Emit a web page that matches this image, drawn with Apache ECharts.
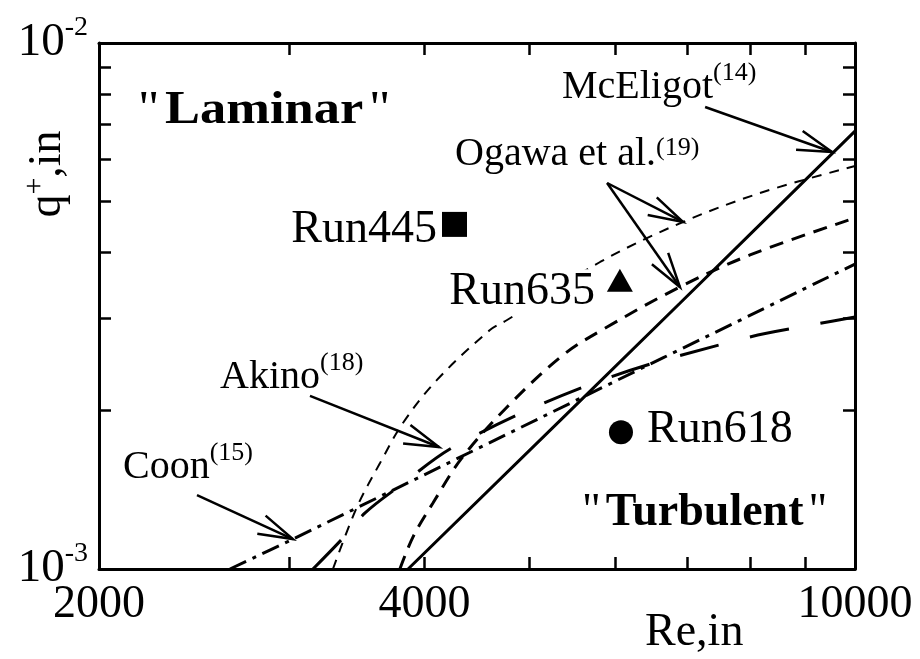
<!DOCTYPE html>
<html>
<head>
<meta charset="utf-8">
<script src="https://cdn.jsdelivr.net/npm/echarts@6/dist/echarts.min.js"></script>
<style>
  html, body { margin: 0; padding: 0; background: #fff; }
  #chart { width: 920px; height: 659px; }
</style>
</head>
<body>
<div id="chart"></div>
<script>
// Axis tick values (log scales)
const reTicks = [3000, 4000, 5000, 6000, 7000, 8000, 9000];
const reLabels = [2000, 4000, 10000];
const qTicks = [0.002, 0.003, 0.004, 0.005, 0.006, 0.007, 0.008, 0.009];
const qLabels = [0.001, 0.01];

// Laminarization criteria, pairs of [Re_in, q+_in]
const mcEligot = [[3862, 1.0e-3], [6888, 3.20e-3], [10000, 6.80e-3]];
const ogawaUpper = [[3291, 1.0e-3], [3464, 1.312e-3], [3638, 1.59e-3], [3820, 1.895e-3], [4107, 2.288e-3],
  [4597, 2.847e-3], [4768, 2.974e-3], [5812, 3.834e-3], [6934, 4.568e-3], [8224, 5.208e-3], [10000, 5.836e-3]];
const ogawaLower = [[3795, 1.0e-3], [3902, 1.15e-3], [4072, 1.335e-3], [4331, 1.626e-3], [4768, 2.032e-3],
  [5370, 2.55e-3], [5899, 2.884e-3], [6888, 3.437e-3], [7998, 3.954e-3], [10000, 4.649e-3]];
const akino = [[3154, 1.0e-3], [3362, 1.145e-3], [3524, 1.278e-3], [3772, 1.426e-3], [4286, 1.721e-3],
  [5774, 2.268e-3], [7862, 2.737e-3], [9222, 2.923e-3], [10000, 3.014e-3]];
const coon = [[2643, 1.0e-3], [3022, 1.14e-3], [5115, 1.937e-3], [10000, 3.80e-3]];

// Experimental runs
const run445 = [[4263, 4.52e-3]];
const run635 = [[6062, 3.54e-3]];
const run618 = [[6076, 1.82e-3]];

// Pointer arrows: [tail Re, tail q+, tip Re, tip q+]
const arrows = [
  [7268, 7.555e-3, 9522, 6.206e-3],
  [5899, 5.418e-3, 6934, 4.568e-3],
  [5899, 5.418e-3, 6888, 3.437e-3],
  [3134, 2.133e-3, 4124, 1.706e-3],
  [2464, 1.382e-3, 3022, 1.14e-3]
];

const SERIF = '"Liberation Serif", "Times New Roman", serif';
const BLACK = '#000';

function frameAxis(extra) {
  return Object.assign({
    type: 'log',
    logBase: 10,
    axisLine: { show: true, onZero: false, lineStyle: { color: BLACK, width: 3 } },
    splitLine: { show: false },
    minorTick: { show: false }
  }, extra);
}

function ticks(values) {
  return { show: true, inside: true, length: 12, customValues: values, lineStyle: { color: BLACK, width: 2.5 } };
}

function curve(name, data, lineType, width) {
  return {
    name: name,
    type: 'line',
    data: data,
    symbol: 'none',
    smooth: 0.35,
    clip: true,
    lineStyle: { color: BLACK, width: width, type: lineType, cap: 'butt' },
    z: 3
  };
}

function runPoint(name, data, symbol, size, pos, dist, offset, bg) {
  return {
    name: name,
    type: 'scatter',
    data: data,
    symbol: symbol,
    symbolSize: size,
    itemStyle: { color: BLACK, opacity: 1 },
    label: {
      show: true, position: pos, distance: dist, offset: offset,
      formatter: name, fontFamily: SERIF, fontSize: 46, color: BLACK,
      backgroundColor: bg || 'transparent', padding: bg ? [0, 2, 0, 2] : 0
    },
    z: 5
  };
}

// Annotation text with a superscript reference number
function refText(main, ref, x, y, lh) {
  return {
    type: 'text', x: x, y: y, z: 10,
    style: {
      text: '{m|' + main + '}{s|' + ref + '}',
      align: 'left', verticalAlign: 'top',
      rich: {
        m: { fontFamily: SERIF, fontSize: 40, lineHeight: lh, fill: BLACK, color: BLACK },
        s: { fontFamily: SERIF, fontSize: 26, lineHeight: 26, verticalAlign: 'top', fill: BLACK, color: BLACK }
      }
    }
  };
}

// Bold region name in plain straight quotes
function regionText(word, x, y, sx) {
  return {
    type: 'text', x: x, y: y, z: 10, scaleX: sx,
    style: {
      text: '{q|"}{b|' + word + '}{r|"}',
      align: 'left', verticalAlign: 'top',
      rich: {
        q: { fontFamily: SERIF, fontSize: 46, lineHeight: 46, padding: [0, 5, 0, 0], fill: BLACK, color: BLACK },
        b: { fontFamily: SERIF, fontSize: 46, fontWeight: 'bold', lineHeight: 46, fill: BLACK, color: BLACK },
        r: { fontFamily: SERIF, fontSize: 46, lineHeight: 46, padding: [0, 0, 0, 5], fill: BLACK, color: BLACK }
      }
    }
  };
}

const chart = echarts.init(document.getElementById('chart'), null, { renderer: 'canvas' });

chart.setOption({
  animation: false,
  backgroundColor: '#fff',
  grid: { left: 99, right: 65, top: 43, bottom: 90, outerBoundsMode: 'none', containLabel: false },
  xAxis: [
    frameAxis({
      position: 'bottom', min: 2000, max: 10000,
      axisTick: ticks(reTicks),
      axisLabel: {
        show: true, customValues: reLabels, margin: 13,
        fontFamily: SERIF, fontSize: 46, color: BLACK,
        formatter: v => String(Math.round(v))
      }
    }),
    frameAxis({
      position: 'top', min: 2000, max: 10000,
      axisTick: ticks(reTicks),
      axisLabel: { show: false }
    })
  ],
  yAxis: [
    frameAxis({
      position: 'left', min: 0.001, max: 0.01,
      axisTick: ticks(qTicks),
      axisLabel: {
        show: true, customValues: qLabels, margin: 11,
        formatter: v => '{m|10}{e|' + Math.round(Math.log10(v)) + '}',
        rich: {
          m: { fontFamily: SERIF, fontSize: 47, lineHeight: 58, color: BLACK },
          e: { fontFamily: SERIF, fontSize: 28, lineHeight: 28, verticalAlign: 'top', color: BLACK }
        }
      }
    }),
    frameAxis({
      position: 'right', min: 0.001, max: 0.01,
      axisTick: ticks(qTicks),
      axisLabel: { show: false }
    })
  ],
  series: [
    curve('McEligot', mcEligot, 'solid', 3),
    curve('Ogawa (a)', ogawaUpper, [10, 8], 2),
    curve('Ogawa (b)', ogawaLower, [14, 9], 3),
    curve('Akino', akino, [40, 32], 3),
    curve('Coon', coon, [18, 7, 4, 7], 3),
    runPoint('Run445', run445, 'rect', 25, 'left', 5, [0, 6]),
    runPoint('Run635', run635, 'triangle', [26, 23], 'left', 10, [0, 12], '#fff'),
    runPoint('Run618', run618, 'circle', 24, 'right', 14, [0, -2]),
    {
      name: 'pointers',
      type: 'custom',
      data: arrows,
      clip: false,
      z: 6,
      encode: { x: [0, 2], y: [1, 3] },
      renderItem: function (params, api) {
        const a = api.coord([api.value(0), api.value(1)]);
        const b = api.coord([api.value(2), api.value(3)]);
        const ang = Math.atan2(a[1] - b[1], a[0] - b[0]);
        const len = 36, spread = 0.28;
        const p1 = [b[0] + len * Math.cos(ang + spread), b[1] + len * Math.sin(ang + spread)];
        const p2 = [b[0] + len * Math.cos(ang - spread), b[1] + len * Math.sin(ang - spread)];
        return {
          type: 'group',
          children: [
            { type: 'line', shape: { x1: a[0], y1: a[1], x2: b[0], y2: b[1] },
              style: { stroke: BLACK, lineWidth: 2.5 } },
            { type: 'polyline', shape: { points: [p1, b, p2] },
              style: { stroke: BLACK, fill: null, lineWidth: 2.5 } }
          ]
        };
      }
    }
  ],
  graphic: [
    refText('McEligot', '(14)', 562, 60, 54),
    refText('Ogawa et al.', '(19)', 455, 135, 39),
    refText('Akino', '(18)', 220, 350, 54),
    refText('Coon', '(15)', 123, 440, 54),
    regionText('Laminar', 138, 88, 1.14),
    regionText('Turbulent', 582, 490, 1.0),
    {
      type: 'text', x: 645, y: 610, z: 10,
      style: { text: 'Re,in', font: '46px ' + SERIF, fill: BLACK, align: 'left', verticalAlign: 'top' }
    },
    {
      type: 'text', x: 48, y: 174, rotation: Math.PI / 2, z: 10,
      style: {
        text: '{m|q}{s|+}{m|,in}',
        align: 'center', verticalAlign: 'middle',
        rich: {
          m: { fontFamily: SERIF, fontSize: 46, lineHeight: 56, fill: BLACK, color: BLACK },
          s: { fontFamily: SERIF, fontSize: 30, lineHeight: 30, verticalAlign: 'top', fill: BLACK, color: BLACK }
        }
      }
    }
  ]
});
</script>
</body>
</html>
